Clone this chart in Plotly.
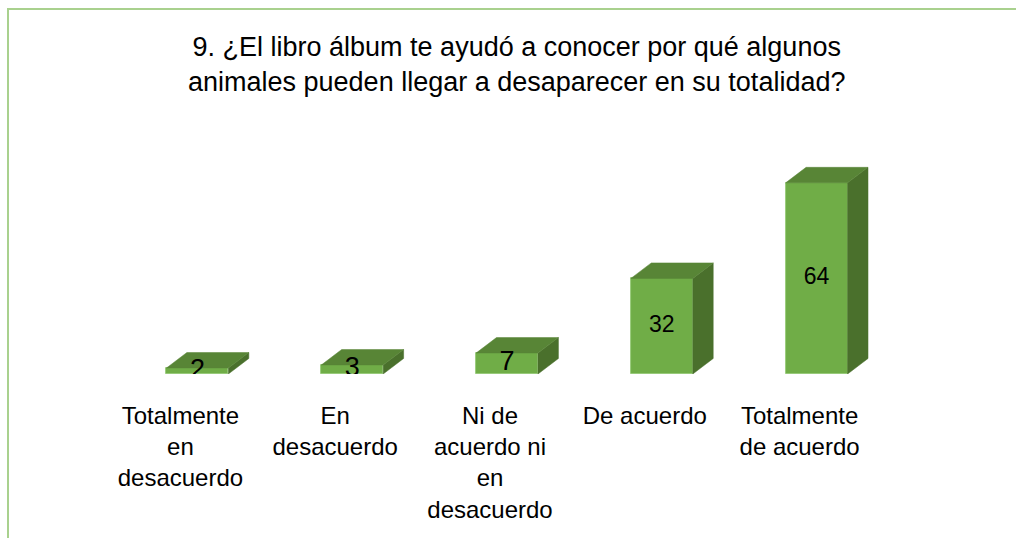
import plotly.graph_objects as go

categories = ["Totalmente<br>en<br>desacuerdo", "En<br>desacuerdo",
              "Ni de<br>acuerdo ni<br>en<br>desacuerdo", "De acuerdo",
              "Totalmente<br>de acuerdo"]
values = [2, 3, 7, 32, 64]
label_sizes = [27, 27, 27, 23, 23]
title_text = ("9. ¿El libro álbum te ayudó a conocer por qué algunos<br>"
              "animales pueden llegar a desaparecer en su totalidad?")

FRONT = "#70AD47"
TOP = "#588536"
SIDE = "#4A702C"

W, H = 1016, 538
ML, MR, MT, MB = 103, 139, 150, 164
PW, PH = W - ML - MR, H - MT - MB
YMAX = 75

shift = 0.11     # front face centre offset from category centre
bw = 0.4         # bar width (category units)
dx = 0.132       # depth offset x (category units)
dy = 5.2         # depth offset y (value units)

pos = list(range(len(values)))
xf = [p + shift for p in pos]

fig = go.Figure()

# top and side faces
for x, v in zip(xf, values):
    x0, x1 = x - bw / 2, x + bw / 2
    fig.add_trace(go.Scatter(
        x=[x1, x1 + dx, x1 + dx, x1, x1], y=[0, dy, v + dy, v, 0],
        fill="toself", fillcolor=SIDE, mode="lines",
        line=dict(width=0.5, color=SIDE), hoverinfo="skip", showlegend=False))
    fig.add_trace(go.Scatter(
        x=[x0, x1, x1 + dx, x0 + dx, x0], y=[v, v, v + dy, v + dy, v],
        fill="toself", fillcolor=TOP, mode="lines",
        line=dict(width=0.5, color=TOP), hoverinfo="skip", showlegend=False))

# front faces
fig.add_trace(go.Bar(
    x=xf, y=values, width=bw, marker=dict(color=FRONT, line=dict(color="#8cc46a", width=0.8)),
    hoverinfo="skip", showlegend=False))

# data labels
fig.add_trace(go.Scatter(
    x=xf, y=[v / 2 for v in values], mode="text", text=[str(v) for v in values],
    textposition="middle center",
    textfont=dict(family="Liberation Sans, Arial", size=label_sizes, color="black"),
    hoverinfo="skip", showlegend=False))

# outer chart border (partially visible)
bx0 = (8 - ML) / PW
bx1 = (W + 20 - ML) / PW
by1 = (H - MB - 9) / PH
by0 = (H - MB - (H + 20)) / PH
fig.add_shape(type="rect", xref="paper", yref="paper", x0=bx0, x1=bx1, y0=by0, y1=by1,
              line=dict(color="#A9D18E", width=2), fillcolor="rgba(0,0,0,0)", layer="below")

# title
fig.add_annotation(text=title_text, xref="paper", yref="paper",
                   x=(516 - ML) / PW, y=(H - MB - 64.5) / PH,
                   xanchor="center", yanchor="middle", showarrow=False,
                   font=dict(family="Liberation Sans, Arial", size=27, color="black"))

fig.update_layout(
    width=W, height=H,
    margin=dict(l=ML, r=MR, t=MT, b=MB, autoexpand=False),
    paper_bgcolor="white", plot_bgcolor="white",
    font=dict(family="Liberation Sans, Arial", color="black"),
    xaxis=dict(range=[-0.5, len(values) - 0.5], tickvals=pos, ticktext=categories,
               showgrid=False, zeroline=False, showline=False, ticks="",
               ticklabelstandoff=25,
               tickfont=dict(size=24, color="black")),
    yaxis=dict(range=[0, YMAX], visible=False, showgrid=False, zeroline=False),
    bargap=0,
)

fig.write_html("out.html", config={"displayModeBar": False},
               post_script="document.body.style.margin='0';")
